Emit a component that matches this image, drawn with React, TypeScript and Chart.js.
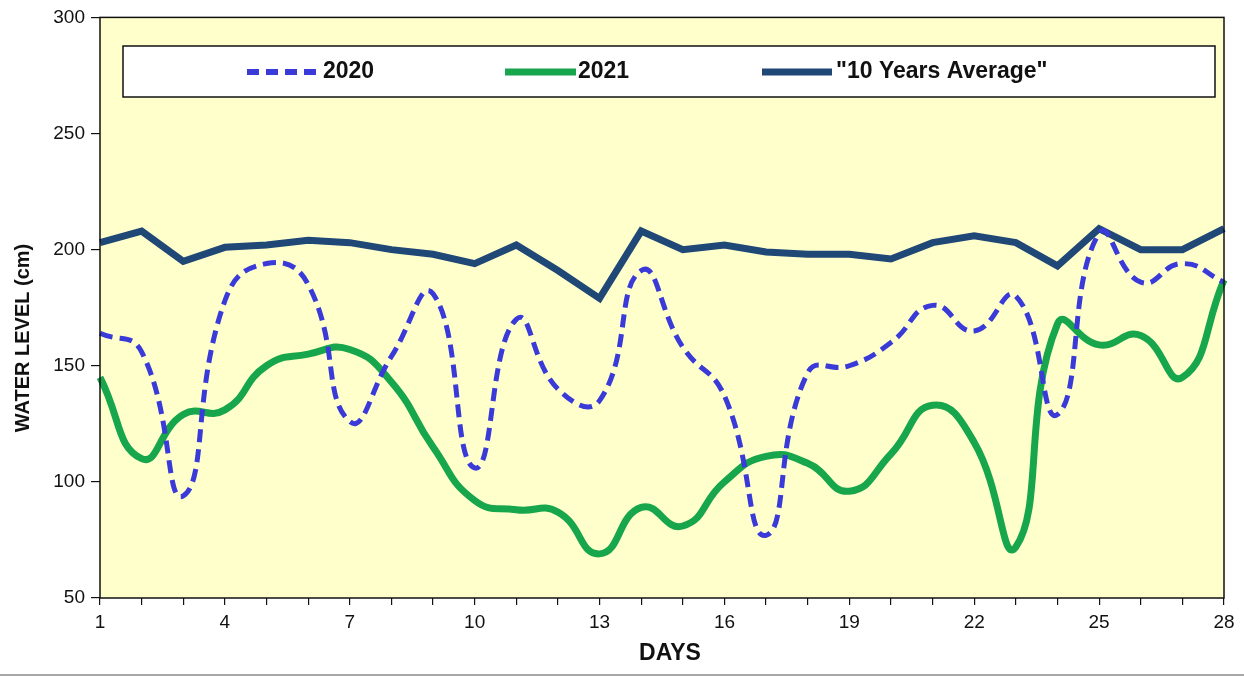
import React, { useEffect, useRef } from "react";
import { Chart, registerables } from "chart.js";

Chart.register(...registerables);

const days = ["1","2","3","4","5","6","7","8","9","10","11","12","13","14","15","16","17","18","19","20","21","22","23","24","25","26","27","28"];
const levels2020 = [164, 156, 94, 178, 194, 185, 126, 154, 181, 106, 170, 140, 135, 191, 158, 137, 77, 147, 150, 160, 176, 165, 180, 129, 207, 186, 194, 186];
const levels2021 = [145, 110, 129, 131, 150, 155, 157, 143, 115, 92, 88, 87, 69, 89, 81, 100, 111, 108, 96, 112, 133, 117, 72, 168, 159, 163, 145, 187];
const tenYearAvg = [203, 208, 195, 201, 202, 204, 203, 200, 198, 194, 202, 191, 179, 208, 200, 202, 199, 198, 198, 196, 203, 206, 203, 193, 209, 200, 200, 209];
const seriesNames = ["2020", "2021", "\"10 Years Average\""];
const yTicks = [50, 100, 150, 200, 250, 300];

const C2020 = "#3a3ad8";
const C2021 = "#17a64c";
const CAVG = "#1f4877";
const FONT = "'Liberation Sans', Arial, sans-serif";

const decorPlugin = {
  id: "decor",
  beforeDraw(chart: any) {
    const { ctx, chartArea: a } = chart;
    ctx.save();
    ctx.fillStyle = "#ffffcc";
    ctx.fillRect(a.left, a.top, a.right - a.left, a.bottom - a.top);
    ctx.restore();
  },
  afterDraw(chart: any) {
    const { ctx, chartArea: a, width, height } = chart;
    ctx.save();
    // plot border
    ctx.strokeStyle = "#111";
    ctx.lineWidth = 1.5;
    ctx.strokeRect(a.left, a.top, a.right - a.left, a.bottom - a.top);

    // legend box
    const lx = 123, ly = 46, lw = 1092, lh = 51;
    ctx.fillStyle = "#ffffff";
    ctx.fillRect(lx, ly, lw, lh);
    ctx.strokeStyle = "#111";
    ctx.lineWidth = 1.5;
    ctx.strokeRect(lx, ly, lw, lh);
    const cy = 72;
    const items = [
      { x0: 247, x1: 316, tx: 323, color: C2020, dash: [12, 7], w: 6 },
      { x0: 505, x1: 576, tx: 578, color: C2021, dash: [], w: 7 },
      { x0: 762, x1: 832, tx: 836, color: CAVG, dash: [], w: 7 },
    ];
    items.forEach((it, i) => {
      ctx.beginPath();
      ctx.setLineDash(it.dash);
      ctx.lineCap = "butt";
      ctx.strokeStyle = it.color;
      ctx.lineWidth = it.w;
      ctx.moveTo(it.x0, cy);
      ctx.lineTo(it.x1, cy);
      ctx.stroke();
      ctx.setLineDash([]);
      ctx.fillStyle = "#111";
      ctx.font = `bold 23px ${FONT}`;
      ctx.textBaseline = "middle";
      ctx.textAlign = "left";
      ctx.fillText(seriesNames[i], it.tx, cy);
    });

    // axis titles
    ctx.fillStyle = "#111";
    ctx.font = `bold 23px ${FONT}`;
    ctx.textAlign = "center";
    ctx.textBaseline = "middle";
    ctx.fillText("DAYS", 670, 654);
    ctx.save();
    ctx.translate(23, 338);
    ctx.rotate(-Math.PI / 2);
    ctx.font = `bold 20px ${FONT}`;
    ctx.fillText("WATER LEVEL (cm)", 0, 0);
    ctx.restore();

    // bottom gray rule
    ctx.fillStyle = "#a8a8a8";
    ctx.fillRect(0, height - 3, width, 2);
    ctx.restore();
  },
};

export default function App() {
  const ref = useRef<HTMLCanvasElement>(null);
  useEffect(() => {
    if (!ref.current) return;
    const chart = new Chart(ref.current, {
      type: "line",
      data: {
        labels: days,
        datasets: [
          {
            label: seriesNames[0],
            data: levels2020,
            borderColor: C2020,
            borderWidth: 5,
            borderDash: [13, 7],
            pointRadius: 0,
            tension: 0.5,
            fill: false,
          },
          {
            label: seriesNames[1],
            data: levels2021,
            borderColor: C2021,
            borderWidth: 7,
            pointRadius: 0,
            tension: 0.5,
            fill: false,
          },
          {
            label: seriesNames[2],
            data: tenYearAvg,
            borderColor: CAVG,
            borderWidth: 7,
            pointRadius: 0,
            tension: 0,
            fill: false,
          },
        ],
      },
      options: {
        responsive: false,
        animation: false,
        layout: { padding: { left: 0, right: 20, top: 14, bottom: 0 } },
        plugins: { legend: { display: false }, tooltip: { enabled: false }, title: { display: false } },
        scales: {
          x: {
            type: "category",
            offset: false,
            border: { display: false },
            grid: { drawOnChartArea: false, drawTicks: true, tickLength: 7, color: "#111", lineWidth: 1.2 },
            ticks: {
              autoSkip: false,
              maxRotation: 0,
              padding: 6,
              color: "#111",
              font: { family: FONT, size: 19 },
              callback: (_v: any, i: number) => (i % 3 === 0 ? days[i] : ""),
            },
            afterFit: (s: any) => { s.height = 79; },
          },
          y: {
            min: yTicks[0],
            max: yTicks[yTicks.length - 1],
            border: { display: false },
            grid: { drawOnChartArea: false, drawTicks: true, tickLength: 9, color: "#111", lineWidth: 1.2 },
            ticks: {
              stepSize: 50,
              padding: 6,
              color: "#111",
              font: { family: FONT, size: 19 },
            },
            afterFit: (s: any) => { s.width = 100; },
          },
        },
      },
      plugins: [decorPlugin],
    });
    return () => chart.destroy();
  }, []);
  return (
    <div style={{ position: "fixed", left: 0, top: 0, width: 1244, height: 677, background: "#fff" }}>
      <canvas ref={ref} width={1244} height={677} style={{ display: "block" }} />
    </div>
  );
}
